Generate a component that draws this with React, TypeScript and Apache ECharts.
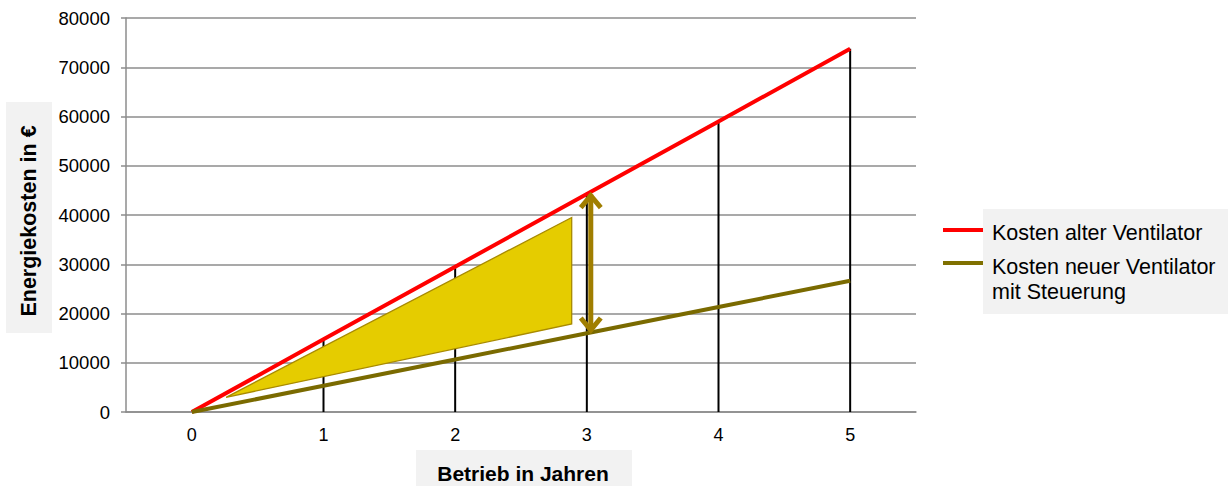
import React, { useEffect, useRef } from "react";
import * as echarts from "echarts";

const years = ["0", "1", "2", "3", "4", "5"];
const oldCost = [0, 14750, 29500, 44250, 59000, 73750];
const newCost = [0, 5330, 10660, 15990, 21320, 26650];
const savingsShape = [
  [0.26, 2980],
  [2.885, 39490],
  [2.885, 17870],
];
const arrowX = 3.03;
const arrowTop = 44560;
const arrowBottom = 16040;
const yMin = 0;
const yMax = 80000;
const yInterval = 10000;
const legendNames = ["Kosten alter Ventilator", "Kosten neuer Ventilator", "mit Steuerung"];
const xTitle = "Betrieb in Jahren";
const yTitle = "Energiekosten in €";

const FONT = "'Liberation Sans', Arial, sans-serif";
const RED = "#ff0000";
const OLIVE = "#7a6a00";
const GRID = "#8c8c8c";

export default function App() {
  const ref = useRef<HTMLDivElement>(null);
  useEffect(() => {
    if (!ref.current) return;
    const chart = echarts.init(ref.current, undefined, { renderer: "svg" });
    chart.setOption({
      animation: false,
      backgroundColor: "#ffffff",
      grid: { left: 126, right: 312, top: 18, bottom: 74, containLabel: false },
      xAxis: [
        {
          type: "category",
          data: years,
          boundaryGap: true,
          axisLine: { show: true, onZero: false, lineStyle: { color: GRID, width: 1.5 } },
          axisTick: { show: false },
          axisLabel: { color: "#000", fontSize: 18, fontFamily: FONT, margin: 14 },
          splitLine: { show: false },
        },
        {
          type: "value",
          min: -0.5,
          max: 5.5,
          show: false,
        },
      ],
      yAxis: {
        type: "value",
        min: yMin,
        max: yMax,
        interval: yInterval,
        axisLine: { show: true, onZero: false, lineStyle: { color: GRID, width: 1.5 } },
        axisTick: { show: true, inside: false, length: 5, lineStyle: { color: GRID, width: 1.5 } },
        axisLabel: {
          color: "#000",
          fontSize: 18.5,
          fontFamily: FONT,
          margin: 16,
          formatter: (v: number) => String(v),
        },
        splitLine: { show: true, lineStyle: { color: GRID, width: 1.5 } },
      },
      series: [
        {
          type: "bar",
          data: oldCost,
          barWidth: 2,
          itemStyle: { color: "#000" },
          z: 1,
          silent: true,
        },
        {
          type: "line",
          data: oldCost,
          symbol: "none",
          lineStyle: { color: RED, width: 4 },
          z: 3,
        },
        {
          type: "line",
          data: newCost,
          symbol: "none",
          lineStyle: { color: OLIVE, width: 4 },
          z: 3,
        },
        {
          type: "custom",
          xAxisIndex: 1,
          data: [[0, 0]],
          z: 4,
          renderItem: (_p: any, api: any) => ({
            type: "polygon",
            shape: { points: savingsShape.map((p) => api.coord(p)) },
            style: { fill: "#e5cc00", stroke: "#a88a00", lineWidth: 1.3 },
          }),
        },
        {
          type: "custom",
          xAxisIndex: 1,
          data: [[0, 0]],
          z: 5,
          renderItem: (_p: any, api: any) => {
            const t = api.coord([arrowX, arrowTop]);
            const b = api.coord([arrowX, arrowBottom]);
            const c = "#a07e00";
            const st = { stroke: c, lineWidth: 5, fill: "none" };
            return {
              type: "group",
              children: [
                { type: "polyline", shape: { points: [[t[0], t[1] + 2], [b[0], b[1] - 2]] }, style: st },
                {
                  type: "polyline",
                  shape: { points: [[t[0] - 10, t[1] + 15], [t[0], t[1] + 3], [t[0] + 10, t[1] + 15]] },
                  style: st,
                },
                {
                  type: "polyline",
                  shape: { points: [[b[0] - 10, b[1] - 15], [b[0], b[1] - 3], [b[0] + 10, b[1] - 15]] },
                  style: st,
                },
              ],
            };
          },
        },
      ],
      graphic: [
        { type: "rect", shape: { x: 983, y: 209, width: 245, height: 105 }, style: { fill: "#f2f2f2" }, z: 0 },
        { type: "line", shape: { x1: 943, y1: 230, x2: 983, y2: 230 }, style: { stroke: RED, lineWidth: 4 } },
        { type: "line", shape: { x1: 943, y1: 263, x2: 983, y2: 263 }, style: { stroke: "#7f7000", lineWidth: 4 } },
        {
          type: "text",
          x: 992,
          y: 233,
          style: { text: legendNames[0], font: `21.5px ${FONT}`, fill: "#000", verticalAlign: "middle", align: "left" },
        },
        {
          type: "text",
          x: 992,
          y: 267,
          style: { text: legendNames[1], font: `21.5px ${FONT}`, fill: "#000", verticalAlign: "middle", align: "left" },
        },
        {
          type: "text",
          x: 992,
          y: 292,
          style: { text: legendNames[2], font: `21.5px ${FONT}`, fill: "#000", verticalAlign: "middle", align: "left" },
        },
        { type: "rect", shape: { x: 6, y: 102, width: 46, height: 231 }, style: { fill: "#f2f2f2" } },
        {
          type: "text",
          x: 29,
          y: 221,
          rotation: Math.PI / 2,
          style: { text: yTitle, font: `bold 21.5px ${FONT}`, fill: "#000", verticalAlign: "middle", align: "center" },
        },
        { type: "rect", shape: { x: 416, y: 450, width: 216, height: 36 }, style: { fill: "#f2f2f2" } },
        {
          type: "text",
          x: 523,
          y: 473,
          style: { text: xTitle, font: `bold 21px ${FONT}`, fill: "#000", verticalAlign: "middle", align: "center" },
        },
      ],
    });
    return () => chart.dispose();
  }, []);
  return (
    <div
      ref={ref}
      style={{ position: "fixed", left: 0, top: 0, width: 1228, height: 486 }}
    />
  );
}
